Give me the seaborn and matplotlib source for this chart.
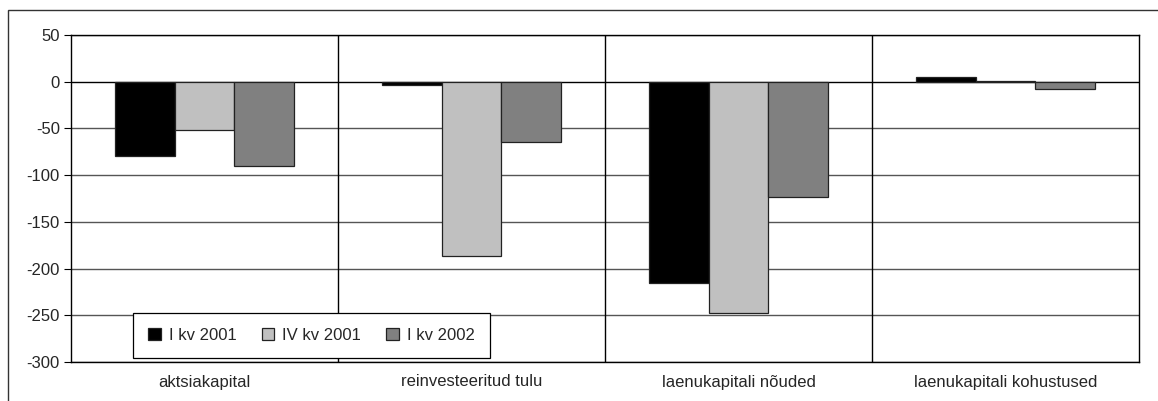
import matplotlib
matplotlib.use("Agg")
import matplotlib.pyplot as plt
import seaborn as sns
import pandas as pd
from matplotlib.patches import Rectangle

categories = ["aktsiakapital", "reinvesteeritud tulu", "laenukapitali nõuded", "laenukapitali kohustused"]
series_names = ["I kv 2001", "IV kv 2001", "I kv 2002"]
i_kv_2001 = [-80, -4, -215, 5]
iv_kv_2001 = [-52, -187, -248, 1]
i_kv_2002 = [-90, -64, -123, -8]
colors = ["#000000", "#C0C0C0", "#808080"]
y_ticks = [50, 0, -50, -100, -150, -200, -250, -300]

rows = []
for name, vals in zip(series_names, [i_kv_2001, iv_kv_2001, i_kv_2002]):
    for c, v in zip(categories, vals):
        rows.append({"kategooria": c, "seeria": name, "väärtus": v})
df = pd.DataFrame(rows)

sns.set_theme(style="white")
plt.rcParams["font.family"] = ["Liberation Sans", "DejaVu Sans"]

fig = plt.figure(figsize=(11.58, 4.01), dpi=100)
ax = fig.add_axes([71/1158, 1-362/401, (1139-71)/1158, (362-35)/401])

# outer frame (cut off at right and bottom as in reference)
fig.patches.append(Rectangle((8/1158, -0.1), 1.2, 1 - 10/401 + 0.1, transform=fig.transFigure,
                             fill=False, edgecolor="#333333", linewidth=1.0, zorder=0))

sns.barplot(data=df, x="kategooria", y="väärtus", hue="seeria", order=categories,
            hue_order=series_names, palette=colors, width=0.667, saturation=1,
            edgecolor="#222222", linewidth=0.9, ax=ax, zorder=3, legend=True)

ax.set_xlim(-0.5, len(categories) - 0.5)
ax.set_ylim(-300, 50)
ax.set_yticks(y_ticks)
ax.set_yticklabels([str(t) for t in y_ticks], fontsize=12)
ax.set_xlabel("")
ax.set_ylabel("")
ax.tick_params(axis="x", length=0, labelsize=12, pad=9)
ax.tick_params(axis="y", length=5, width=0.8, color="black", direction="out", pad=3, left=True)

for t in y_ticks:
    ax.axhline(t, color="#000000" if t == 0 else "#555555", linewidth=1.0, zorder=1)
for b in range(1, len(categories)):
    ax.axvline(b - 0.5, color="black", linewidth=1.0, zorder=1)

for s in ax.spines.values():
    s.set_color("black")
    s.set_linewidth(1.0)

leg = ax.legend(loc="lower left", bbox_to_anchor=(62/1068, 4/327), ncol=3, fontsize=12,
                frameon=True, fancybox=False, edgecolor="black", framealpha=1,
                handlelength=0.75, handleheight=0.75, handletextpad=0.5, columnspacing=1.5,
                borderpad=0.9, borderaxespad=0)
leg.get_frame().set_linewidth(0.9)
leg.set_zorder(5)

fig.savefig("out.png", dpi=100, facecolor="white")
